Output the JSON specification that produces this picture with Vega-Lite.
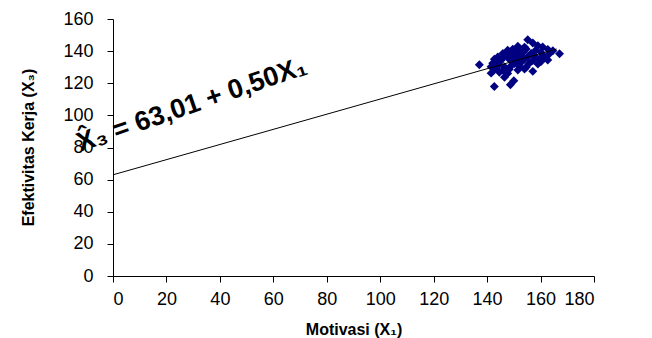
{
  "$schema": "https://vega.github.io/schema/vega-lite/v6.json",
  "width": 481,
  "height": 257,
  "autosize": "none",
  "padding": {"left": 113, "top": 19, "right": 58, "bottom": 62},
  "background": "white",
  "config": {
    "view": {"stroke": null},
    "axis": {
      "grid": false,
      "domainColor": "black",
      "tickColor": "black",
      "labelColor": "black",
      "titleColor": "black",
      "labelFont": "Liberation Sans",
      "titleFont": "Liberation Sans",
      "labelFontSize": 18,
      "labelOverlap": false,
      "tickSize": 6,
      "domainWidth": 1,
      "tickWidth": 1
    }
  },
  "datasets": {
    "pts": [
      {"x": 137.1, "y": 131.5}, {"x": 142.7, "y": 118.0}, {"x": 146.5, "y": 123.7}, {"x": 148.7, "y": 119.1},
      {"x": 150.0, "y": 121.6}, {"x": 167.1, "y": 138.4}, {"x": 155.2, "y": 147.1}, {"x": 157.1, "y": 145.1},
      {"x": 160.2, "y": 133.6}, {"x": 157.1, "y": 127.4},
      {"x": 151.5, "y": 143.0}, {"x": 154.0, "y": 142.5}, {"x": 159.0, "y": 143.3}, {"x": 160.8, "y": 142.6},
      {"x": 147.7, "y": 140.6}, {"x": 149.6, "y": 141.2}, {"x": 152.1, "y": 140.4}, {"x": 154.6, "y": 141.3}, {"x": 158.3, "y": 140.7}, {"x": 162.7, "y": 141.1}, {"x": 164.6, "y": 140.2},
      {"x": 145.9, "y": 138.5}, {"x": 148.3, "y": 139.1}, {"x": 150.8, "y": 138.2}, {"x": 153.3, "y": 139.0}, {"x": 156.5, "y": 138.6}, {"x": 160.2, "y": 139.2}, {"x": 163.3, "y": 138.3},
      {"x": 144.0, "y": 136.4}, {"x": 146.5, "y": 137.0}, {"x": 149.6, "y": 136.2}, {"x": 152.1, "y": 136.9}, {"x": 155.2, "y": 136.5}, {"x": 157.7, "y": 137.1}, {"x": 161.4, "y": 136.3},
      {"x": 142.7, "y": 134.9}, {"x": 145.2, "y": 134.3}, {"x": 148.3, "y": 135.0}, {"x": 150.8, "y": 134.4}, {"x": 154.0, "y": 134.9}, {"x": 157.1, "y": 134.2}, {"x": 159.6, "y": 135.1}, {"x": 162.7, "y": 134.5},
      {"x": 142.1, "y": 132.4}, {"x": 144.6, "y": 133.0}, {"x": 150.2, "y": 132.3}, {"x": 152.7, "y": 132.9}, {"x": 155.8, "y": 132.5}, {"x": 159.0, "y": 132.0},
      {"x": 141.5, "y": 130.3}, {"x": 144.0, "y": 130.8}, {"x": 146.5, "y": 130.2}, {"x": 149.0, "y": 130.9}, {"x": 152.1, "y": 130.4}, {"x": 154.6, "y": 130.0},
      {"x": 142.7, "y": 128.6}, {"x": 145.9, "y": 128.1}, {"x": 148.3, "y": 128.7}, {"x": 151.5, "y": 128.2}, {"x": 154.0, "y": 128.9},
      {"x": 141.5, "y": 126.3}, {"x": 144.6, "y": 126.8}, {"x": 147.7, "y": 126.1}
    ],
    "fit": [
      {"x": 0, "y": 63.0},
      {"x": 166, "y": 141.3}
    ],
    "eq": [
      {"x": 29.5, "y": 106.5, "label": "X̂₃ = 63,01 + 0,50X₁"}
    ]
  },
  "encoding": {
    "x": {
      "field": "x", "type": "quantitative",
      "scale": {"domain": [0, 180], "nice": false},
      "axis": {"values": [0, 20, 40, 60, 80, 100, 120, 140, 160, 180], "tickCount": 20, "title": "Motivasi (X₁)", "titleFontSize": 16, "titleFontWeight": "bold", "labelPadding": 8, "titlePadding": 13}
    },
    "y": {
      "field": "y", "type": "quantitative",
      "scale": {"domain": [0, 160], "nice": false},
      "axis": {"values": [0, 20, 40, 60, 80, 100, 120, 140, 160], "tickCount": 20, "title": "Efektivitas Kerja (X₃)", "titleFontSize": 16, "titleFontWeight": "bold", "labelPadding": 14, "titleX": -80, "titleY": 128, "titleBaseline": "alphabetic"}
    }
  },
  "layer": [
    {
      "data": {"name": "pts"},
      "mark": {"type": "point", "shape": "diamond", "filled": true, "size": 80, "color": "#000080", "opacity": 1}
    },
    {
      "data": {"name": "fit"},
      "mark": {"type": "line", "color": "black", "strokeWidth": 1}
    },
    {
      "data": {"name": "eq"},
      "mark": {"type": "text", "angle": -19, "fontSize": 27, "fontWeight": 600, "font": "Liberation Sans", "align": "center", "baseline": "middle", "color": "black"},
      "encoding": {
        "text": {"field": "label"}
      }
    }
  ]
}
